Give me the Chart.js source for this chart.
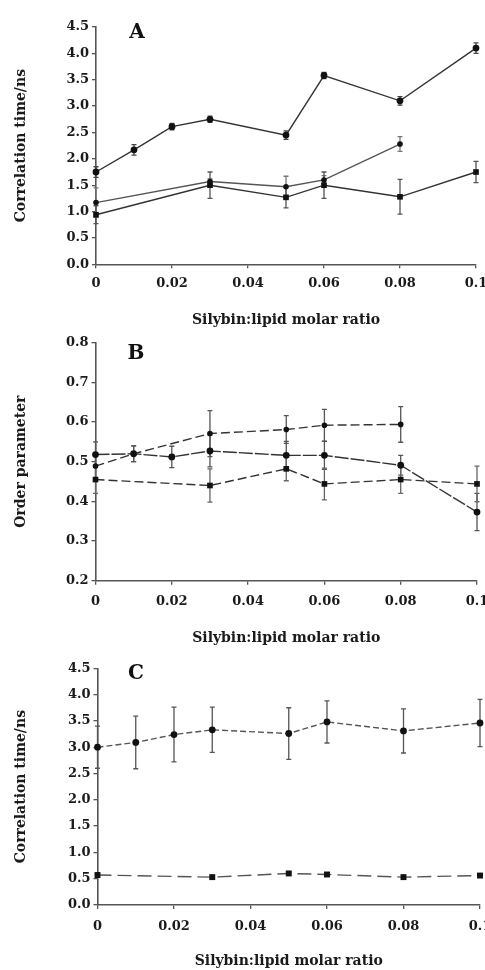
<!DOCTYPE html>
<html><head><meta charset="utf-8">
<script src="https://cdn.jsdelivr.net/npm/chart.js@4/dist/chart.umd.min.js"></script>
<style>
html,body{margin:0;padding:0;background:#fff;width:485px;height:970px;overflow:hidden}
.p{position:absolute;left:0;width:485px}
</style></head><body>
<div class="p" style="top:0;height:331px"><canvas id="cA"></canvas></div>
<div class="p" style="top:331px;height:316px"><canvas id="cB"></canvas></div>
<div class="p" style="top:647px;height:323px"><canvas id="cC"></canvas></div>
<script>
// ---- tick labels ----
const xTickValues = [0, 0.02, 0.04, 0.06, 0.08, 0.1];
const xTickLabels = ['0', '0.02', '0.04', '0.06', '0.08', '0.1'];
const yTicksAC = [0, 0.5, 1, 1.5, 2, 2.5, 3, 3.5, 4, 4.5];
const yTickLabelsAC = ['0.0', '0.5', '1.0', '1.5', '2.0', '2.5', '3.0', '3.5', '4.0', '4.5'];
const yTicksB = [0.2, 0.3, 0.4, 0.5, 0.6, 0.7, 0.8];
const yTickLabelsB = ['0.2', '0.3', '0.4', '0.5', '0.6', '0.7', '0.8'];
const xTitle = 'Silybin:lipid molar ratio';
const yTitleA = 'Correlation time/ns';
const yTitleB = 'Order parameter';
const yTitleC = 'Correlation time/ns';

// ---- Panel A ----
const xA1 = [0, 0.01, 0.02, 0.03, 0.05, 0.06, 0.08, 0.1];
const yA1 = [1.75, 2.17, 2.61, 2.75, 2.45, 3.58, 3.10, 4.10];
const eA1 = [0.10, 0.10, 0.06, 0.06, 0.08, 0.06, 0.08, 0.10];
const xA2 = [0, 0.03, 0.05, 0.06, 0.08];
const yA2 = [1.17, 1.57, 1.47, 1.60, 2.28];
const eA2 = [0.28, 0.05, 0.20, 0.08, 0.14];
const xA3 = [0, 0.03, 0.05, 0.06, 0.08, 0.1];
const yA3 = [0.94, 1.50, 1.27, 1.50, 1.28, 1.75];
const eA3 = [0.17, 0.25, 0.20, 0.25, 0.33, 0.20];

// ---- Panel B ----
const xB1 = [0, 0.01, 0.03, 0.05, 0.06, 0.08];
const yB1 = [0.489, 0.520, 0.571, 0.581, 0.592, 0.594];
const eB1 = [0.030, 0.020, 0.058, 0.035, 0.040, 0.045];
const xB2 = [0, 0.01, 0.02, 0.03, 0.05, 0.06, 0.08, 0.1];
const yB2 = [0.518, 0.520, 0.512, 0.527, 0.516, 0.516, 0.491, 0.373];
const eB2 = [0.032, 0.020, 0.027, 0.040, 0.035, 0.035, 0.025, 0.047];
const xB3 = [0, 0.03, 0.05, 0.06, 0.08, 0.1];
const yB3 = [0.455, 0.440, 0.482, 0.444, 0.455, 0.444];
const eB3 = [0.035, 0.042, 0.030, 0.040, 0.035, 0.045];

// ---- Panel C ----
const xC1 = [0, 0.01, 0.02, 0.03, 0.05, 0.06, 0.08, 0.1];
const yC1 = [3.00, 3.09, 3.24, 3.33, 3.26, 3.48, 3.31, 3.46];
const eC1 = [0.40, 0.50, 0.52, 0.43, 0.49, 0.40, 0.42, 0.45];
const xC2 = [0, 0.03, 0.05, 0.06, 0.08, 0.1];
const yC2 = [0.57, 0.53, 0.60, 0.58, 0.53, 0.56];
const eC2 = [0.03, 0.03, 0.03, 0.03, 0.03, 0.03];

const FONT = '"DejaVu Serif", "Liberation Serif", serif';
const tickFont = {family: FONT, size: 13, weight: 'bold'};
const titleFont = {family: FONT, size: 14, weight: 'bold'};

function pts(xs, ys) { return xs.map((x, i) => ({x: x, y: ys[i]})); }

function series(xs, ys, es, style) {
  return Object.assign({
    data: pts(xs, ys), errors: es,
    borderColor: '#333', backgroundColor: '#111', borderWidth: 1.4,
    pointRadius: 3.4, pointBorderWidth: 0, pointStyle: 'circle',
    tension: 0, clip: false, errColor: '#444'
  }, style);
}

const errorBars = {
  id: 'errorBars',
  beforeDatasetsDraw(chart) {
    const ctx = chart.ctx, xs = chart.scales.x, ys = chart.scales.y;
    chart.data.datasets.forEach(ds => {
      if (!ds.errors) return;
      ctx.save();
      ctx.strokeStyle = ds.errColor; ctx.lineWidth = 1.3; ctx.setLineDash([]);
      ds.data.forEach((p, i) => {
        const e = ds.errors[i]; if (!e) return;
        const x = xs.getPixelForValue(p.x);
        const y1 = ys.getPixelForValue(p.y + e), y2 = ys.getPixelForValue(p.y - e);
        ctx.beginPath();
        ctx.moveTo(x, y1); ctx.lineTo(x, y2);
        ctx.moveTo(x - 2.5, y1); ctx.lineTo(x + 2.5, y1);
        ctx.moveTo(x - 2.5, y2); ctx.lineTo(x + 2.5, y2);
        ctx.stroke();
      });
      ctx.restore();
    });
  }
};

const panelLetter = {
  id: 'panelLetter',
  afterDraw(chart, args, opts) {
    const ctx = chart.ctx, a = chart.chartArea;
    ctx.save();
    ctx.font = 'bold 20px ' + FONT;
    ctx.fillStyle = '#111'; ctx.textAlign = 'center'; ctx.textBaseline = 'middle';
    ctx.fillText(opts.text, a.left + opts.dx, a.top + opts.dy);
    ctx.restore();
  }
};

function panel(id, geo, datasets, yTicks, yLabels, yTitle, letter) {
  return new Chart(document.getElementById(id), {
    type: 'line',
    data: {datasets: datasets},
    plugins: [errorBars, panelLetter],
    options: {
      responsive: true, maintainAspectRatio: false, animation: false,
      layout: {padding: {top: geo.top, right: geo.right, left: 0, bottom: 0}},
      plugins: {legend: {display: false}, tooltip: {enabled: false},
                panelLetter: {text: letter, dx: geo.ldx, dy: geo.ldy}},
      scales: {
        x: {
          type: 'linear', min: 0, max: 0.1,
          afterBuildTicks: s => { s.ticks = xTickValues.map(v => ({value: v})); },
          afterFit: s => { s.height = geo.xh; s.paddingLeft = 0; s.paddingRight = 0; },
          ticks: {callback: (v, i) => xTickLabels[i], font: tickFont, color: '#1a1a1a',
                  padding: geo.xpad, maxRotation: 0, autoSkip: false},
          grid: {drawOnChartArea: false, drawTicks: true, tickLength: 4, color: '#555', lineWidth: 1.3},
          border: {color: '#555', width: 1.6},
          title: {display: true, text: xTitle, font: titleFont, color: '#1a1a1a',
                  padding: {top: 0, bottom: geo.tpad}}
        },
        y: {
          type: 'linear', min: yTicks[0], max: yTicks[yTicks.length - 1],
          afterBuildTicks: s => { s.ticks = yTicks.map(v => ({value: v})); },
          afterFit: s => { s.width = geo.left; s.paddingTop = 0; s.paddingBottom = 0; },
          ticks: {callback: (v, i) => yLabels[i], font: tickFont, color: '#1a1a1a', padding: 3, autoSkip: false},
          grid: {drawOnChartArea: false, drawTicks: true, tickLength: 4, color: '#555', lineWidth: 1.3},
          border: {color: '#555', width: 1.6},
          title: {display: true, text: yTitle, font: titleFont, color: '#1a1a1a',
                  padding: {top: 13, bottom: 0}}
        }
      }
    }
  });
}

panel('cA', {top: 27, right: 9, left: 96, xh: 66.7, xpad: 8, tpad: 2.6, ldx: 41, ldy: 6},
  [
    series(xA1, yA1, eA1, {}),
    series(xA2, yA2, eA2, {borderColor: '#555', pointRadius: 2.8, errColor: '#777'}),
    series(xA3, yA3, eA3, {pointStyle: 'rect', pointRadius: 4, errColor: '#555'})
  ], yTicksAC, yTickLabelsAC, yTitleA, 'A');

panel('cB', {top: 11.7, right: 8, left: 95.5, xh: 66.3, xpad: 9, tpad: 0.6, ldx: 40.5, ldy: 10.6},
  [
    series(xB1, yB1, eB1, {borderDash: [9, 4], pointRadius: 2.8, errColor: '#555'}),
    series(xB2, yB2, eB2, {borderDash: [14, 2], pointRadius: 3.4, errColor: '#555'}),
    series(xB3, yB3, eB3, {borderDash: [9, 4], pointStyle: 'rect', pointRadius: 4, errColor: '#666'})
  ], yTicksB, yTickLabelsB, yTitleB, 'B');

panel('cC', {top: 21.3, right: 5, left: 97.5, xh: 65, xpad: 10, tpad: 0, ldx: 38.5, ldy: 5},
  [
    series(xC1, yC1, eC1, {borderDash: [6, 3], borderColor: '#555', pointRadius: 3.4, errColor: '#555'}),
    series(xC2, yC2, eC2, {borderDash: [14, 6], borderColor: '#555', pointStyle: 'rect', pointRadius: 4.2, errColor: '#666'})
  ], yTicksAC, yTickLabelsAC, yTitleC, 'C');
</script>
</body></html>
